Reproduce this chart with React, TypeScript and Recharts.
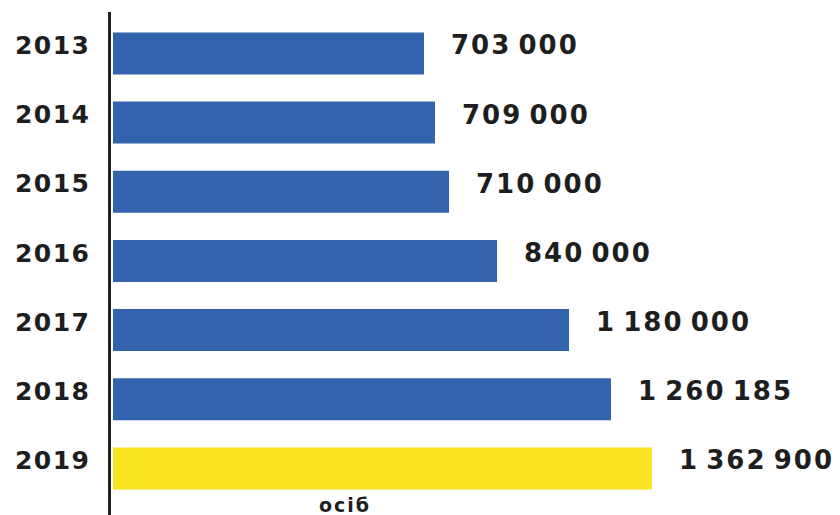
import { Bar, BarChart, Cell, LabelList, XAxis, YAxis } from "recharts";

const years = ["2013", "2014", "2015", "2016", "2017", "2018", "2019"];
// people, as printed next to each bar
const people = [703000, 709000, 710000, 840000, 1180000, 1260185, 1362900];
// the source infographic is not drawn to scale, so the bar lengths are read off the bars themselves
const barLengths = [786400, 814200, 849600, 971000, 1153000, 1259200, 1362900];
const barColors = ["#3363ad", "#3363ad", "#3363ad", "#3363ad", "#3363ad", "#3363ad", "#f8e422"];
const unitLabel = "осіб";

const rows = years.map((year, i) => ({ year, length: barLengths[i], people: people[i] }));

const font = "'DejaVu Sans', sans-serif";

// thousands split by a thin space, like the printed numbers
function fmt(v: number) {
  return String(v).replace(/\B(?=(\d{3})+(?!\d))/g, "\u2009");
}

function YearTick(props: any) {
  const { x, y, payload } = props;
  return (
    <text
      x={x}
      y={y + 1}
      textAnchor="end"
      fontFamily={font}
      fontWeight="bold"
      fontSize={25}
      letterSpacing={1.5}
      fill="#1e1e1e"
    >
      {payload.value}
    </text>
  );
}

function ValueLabel(props: any) {
  const { x, y, width, height, value } = props;
  return (
    <text
      x={x + width + 27}
      y={y + height / 2 + 1}
      fontFamily={font}
      fontWeight="bold"
      fontSize={26}
      letterSpacing={2}
      fill="#1e1e1e"
    >
      {fmt(value)}
    </text>
  );
}

export default function App() {
  return (
    <div style={{ position: "absolute", left: 0, top: 0, width: 840, height: 515, background: "#fff" }}>
      <BarChart
        width={840}
        height={515}
        data={rows}
        layout="vertical"
        margin={{ top: 12, right: 0, bottom: 0, left: 0 }}
      >
        <XAxis type="number" hide domain={[-8850, 1838270]} allowDataOverflow />
        <YAxis
          type="category"
          dataKey="year"
          width={109.5}
          padding={{ top: 6.4, bottom: 12.4 }}
          axisLine={{ stroke: "#222", strokeWidth: 3 }}
          tickLine={false}
          tickSize={0}
          tickMargin={19}
          tick={<YearTick />}
          interval={0}
        />
        <Bar dataKey="length" barSize={42} isAnimationActive={false}>
          {rows.map((row, i) => (
            <Cell key={row.year} fill={barColors[i]} />
          ))}
          <LabelList dataKey="people" content={<ValueLabel />} />
        </Bar>
      </BarChart>
      <div
        style={{
          position: "absolute",
          left: 345,
          top: 496,
          transform: "translateX(-50%)",
          fontFamily: font,
          fontWeight: "bold",
          fontSize: 19,
          letterSpacing: 2,
          color: "#1e1e1e",
          lineHeight: "19px",
          whiteSpace: "nowrap",
        }}
      >
        {unitLabel}
      </div>
    </div>
  );
}
